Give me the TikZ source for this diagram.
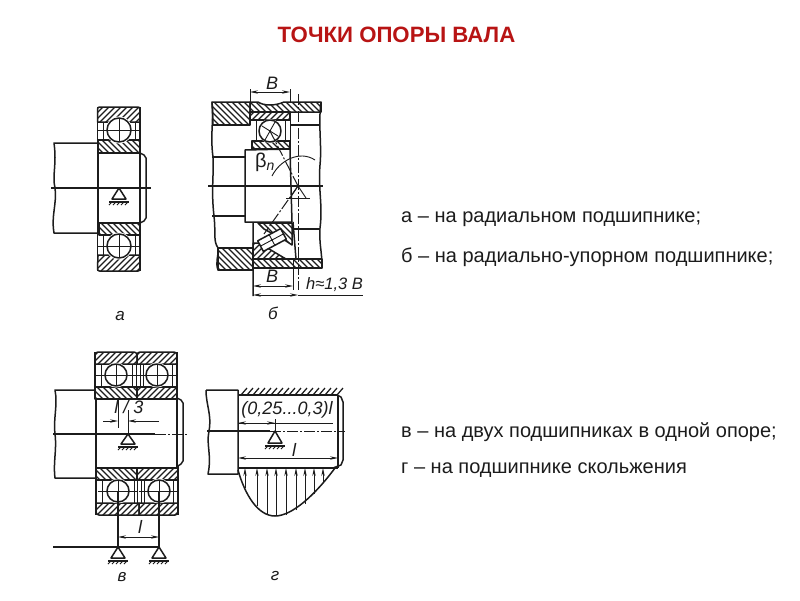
\documentclass[tikz,border=0pt]{standalone}
\usepackage{fontspec}
\setmainfont{Liberation Sans}
\usetikzlibrary{arrows.meta}
\definecolor{ink}{HTML}{1C1C1C}
\definecolor{titlered}{HTML}{B81414}
\tikzset{
  part/.style={draw=ink,line width=1.5pt,line join=round},
  thin part/.style={draw=ink,line width=.9pt},
  hatchline/.style={draw=ink,line width=1.25pt},
  axisline/.style={draw=ink,line width=1.4pt},
  dashaxis/.style={draw=ink,line width=1pt,dash pattern=on 11pt off 2pt on 2pt off 2pt},
  dim/.style={draw=ink,line width=.9pt},
  dimarrow/.style={draw=ink,line width=.9pt,-{Stealth[length=8pt,width=3.4pt]}},
  dimboth/.style={draw=ink,line width=.9pt,{Stealth[length=8pt,width=3.4pt]}-{Stealth[length=8pt,width=3.4pt]}},
  caption/.style={text=ink,font=\fontsize{20}{24}\selectfont,anchor=base west,inner sep=0pt},
  title/.style={text=titlered,font=\bfseries\fontsize{22.2}{26}\selectfont,inner sep=0pt},
  draft/.style={text=ink,font=\itshape\fontsize{18}{20}\selectfont,inner sep=0pt},
  figlabel/.style={text=ink,font=\itshape\fontsize{17}{19}\selectfont,inner sep=0pt},
}
% hatched regions: #1 a closed path
\newcommand{\hatchf}[1]{\begin{scope}\clip #1;\foreach \k in {0,6,...,1200}{\draw[hatchline] (\k,0) -- (\k-700,700);}\end{scope}\draw[part] #1;}
\newcommand{\hatchb}[1]{\begin{scope}\clip #1;\foreach \k in {-650,-644,...,500}{\draw[hatchline] (\k,0) -- (\k+700,700);}\end{scope}\draw[part] #1;}
% a ball with its cross
\newcommand{\ball}[3]{\fill[white] (#1,#2) circle (#3+1.5);
  \draw[part] (#1,#2) circle (#3);
  \draw[thin part] (#1-#3-9,#2) -- (#1+#3+9,#2) (#1,#2-#3) -- (#1,#2+#3);}
% support symbol
\newcommand{\support}[4]{\fill[white] (#1,#2) -- (#1-#3,#4) -- (#1+#3,#4) -- cycle;
  \draw[part] (#1,#2) -- (#1-#3,#4) -- (#1+#3,#4) -- cycle;
  \draw[part] (#1-#3-3,#4+3) -- (#1+#3+3,#4+3);
  \foreach \d in {-9,-5,...,7}{\draw[thin part] (#1+\d+2,#4+3) -- (#1+\d-1,#4+6);}}
\begin{document}
\begin{tikzpicture}[x=1pt,y=-1pt]
\useasboundingbox (0,0) rectangle (800,600);
\fill[white] (0,0) rectangle (800,600);

\node[title] (heading) at (396.5,35) {ТОЧКИ ОПОРЫ ВАЛА};
\node[caption] (capa) at (401,222.5) {а – на радиальном подшипнике;};
\node[caption] (capb) at (401,262) {б – на радиально-упорном подшипнике;};
\node[caption] (capc) at (401,437.5) {в – на двух подшипниках в одной опоре;};
\node[caption] (capd) at (401,473.5) {г – на подшипнике скольжения};

% ---------- a ----------
\draw[part] (97.5,143) -- (54,143) .. controls (57,165) and (52,175) .. (55,188) .. controls (57,205) and (51,215) .. (54,233) -- (97.5,233);
\hatchf{(97.5,122) -- (97.5,110) [rounded corners=2pt] -- (97.5,107) -- (140,107) -- (140,110) [sharp corners] -- (140,122) -- cycle}
\hatchb{(98,140) -- (140,140) -- (140,153) -- (98,153) -- cycle}
\hatchb{(99,223) -- (140,223) -- (140,235) -- (99,235) -- cycle}
\hatchf{(98,255) -- (140,255) -- (140,268) [rounded corners=2pt] -- (140,271) -- (97.5,271) [sharp corners] -- (97.5,268) -- cycle}
\draw[part] (97.5,107) -- (97.5,271) (140,107) -- (140,271);
\draw[part] (98,153) -- (98,223);
\draw[part] (140,153) -- (144,155) -- (146,158) -- (146,218) -- (144,221) -- (140,223);
\draw[thin part] (103,122) -- (103,140) (135,122) -- (135,140) (103,235) -- (103,255) (135,235) -- (135,255);
\ball{119}{130}{12}
\ball{119}{246}{12}
\draw[axisline] (51,188) -- (151,188);
\support{119}{188}{7}{199}
\node[figlabel] (la) at (120,316) {а};

% ---------- b ----------
\draw[part] (212,102) .. controls (214,120) and (210,135) .. (213,157) .. controls (214,175) and (211,190) .. (214,216) .. controls (216,235) and (213,240) .. (218,248);
\draw[part] (218,270) .. controls (215,262) and (219,255) .. (218,248);
\draw[part] (321,102) .. controls (318,125) and (322,145) .. (320,165) .. controls (318,190) and (323,205) .. (320,228) .. controls (319,245) and (322,250) .. (322,268);
\hatchb{(212,102) -- (250,102) -- (250,125) -- (213,125) -- cycle}
\hatchb{(250,102) -- (258,102) .. controls (264,106) and (275,106) .. (284,102) -- (321,102) -- (321,112) -- (250,112) -- cycle}
\hatchb{(218,248) -- (253,248) -- (253,270) -- (218,270) -- cycle}
\hatchb{(253,259) -- (322,259) -- (322,268) -- (253,268) -- cycle}
\hatchf{(250,112) -- (290,112) -- (290,120) -- (250,120) -- cycle}
\hatchb{(252,141) -- (290,141) -- (290,149) -- (252,149) -- cycle}
\draw[part] (250,112) -- (250,125) (252,141) -- (252,150);
\draw[thin part] (290,112) -- (290,150) (256,120) -- (256,141) (285,120) -- (285,141);
\fill[white] (270,131) circle (12);
\draw[part] (270,131) circle (11);
\draw[thin part] (262,126) -- (278,136) (275,122) -- (265,140);
\draw[part] (212,125) -- (250,125) (290,125) -- (320,125);
\draw[part] (290,149) -- (245,150) -- (245,222) -- (292,222);
\draw[part] (212,157) -- (245,157) (212,216) -- (245,216) (293,229) -- (320,229);
\draw[part] (290,150) -- (292,222);
% lower tapered bearing
\hatchb{(258,223) -- (292,223) -- (292,245) -- (286,241) -- (264,229) -- cycle}
\hatchf{(253,243) -- (259,243) -- (286,259) -- (253,259) -- cycle}
\draw[part] (253,222) -- (253,296) (293,222) -- (296,259);
\begin{scope}[rotate around={28:(272,240)}]
\fill[white] (259,234) rectangle (285,246);
\draw[part] (259,234) rectangle (285,246);
\draw[thin part] (272,234) -- (272,246) (259,240) -- (285,240);
\end{scope}
\draw[dashaxis] (298,94) -- (298,290);
\draw[dashaxis] (298,186) -- (264,234);
\draw[dashaxis] (298,186) -- (270,131);
\draw[axisline] (208,186) -- (323,186);
% beta angle arc
\draw[thin part] (272,176) .. controls (280,160) and (300,150) .. (315,160);
\node[draft,font=\fontsize{20}{22}\selectfont] (beta) at (265,162) {β\textsubscript{\itshape n}};
% support b
\draw[thin part] (298,186) -- (290,198) (298,186) -- (306,198);
\draw[thin part] (286,198) -- (310,198);
% dims b
\draw[dim] (250,89) -- (250,102) (290,89) -- (290,102);
\draw[dimboth] (250,92) -- (290,92);
\node[draft] (btop) at (272,83) {B};
\node[draft] (bbot) at (272,276) {B};
\draw[dim] (293,259) -- (293,290);
\draw[dimboth] (253,286) -- (293,286);
\draw[dimboth] (253,295) -- (298,295);
\draw[dim] (298,295) -- (363,295);
\node[draft,anchor=west,font=\itshape\fontsize{16.5}{18}\selectfont] (hval) at (306,285) {h≈1,3 B};
\node[figlabel] (lb) at (273,313) {б};

% ---------- v ----------
\draw[part] (95,390) -- (55,390) .. controls (58,405) and (53,420) .. (55,434) .. controls (57,450) and (53,462) .. (55,478) -- (95,478);
\hatchf{(95,364) [rounded corners=3pt] -- (95,352) -- (137,352) [sharp corners] -- (137,364) -- cycle}
\hatchf{(137,364) [rounded corners=3pt] -- (137,352) -- (177,352) [sharp corners] -- (177,364) -- cycle}
\hatchb{(95,387) -- (137,387) -- (137,399) -- (95,399) -- cycle}
\hatchf{(137,387) -- (177,387) -- (177,399) -- (137,399) -- cycle}
\hatchb{(96,468) -- (137,468) -- (137,480) -- (96,480) -- cycle}
\hatchf{(137,468) -- (178,468) -- (178,480) -- (137,480) -- cycle}
\hatchf{(96,503) -- (139,503) -- (139,515) [rounded corners=3pt] -- (96,515) [sharp corners] -- cycle}
\hatchf{(139,503) -- (178,503) [rounded corners=3pt] -- (178,515) [sharp corners] -- (139,515) -- cycle}
\draw[part] (95,352) -- (95,399) (177,352) -- (177,399) (96,399) -- (96,515) (178,466) -- (178,515) (177,399) -- (177,468);
\draw[thin part] (101,364) -- (101,387) (132,364) -- (132,387) (136,364) -- (136,387) (140,364) -- (140,387) (143,364) -- (143,387) (172,364) -- (172,387);
\draw[thin part] (102,480) -- (102,503) (134,480) -- (134,503) (137,480) -- (137,503) (141,480) -- (141,503) (144,480) -- (144,503) (173,480) -- (173,503);
\draw[part] (177,398) -- (181,400) -- (183,403) -- (183,461) -- (181,464) -- (178,466);
\ball{116}{375}{11}
\ball{157}{375}{11}
\ball{118}{491}{11}
\ball{159}{491}{11}
\draw[axisline] (53,434) -- (155,434);
\draw[dashaxis] (155,434) -- (188,434);
\draw[dim] (118,399) -- (118,428) (128,410) -- (128,434);
\draw[dimarrow] (103,421) -- (118,421);
\draw[dimarrow] (159,421) -- (128,421);
\node[draft,anchor=center] (third) at (129,407) {l / 3};
\support{128}{434}{7}{444}
\draw[part] (118,491) -- (118,547) (159,491) -- (159,547);
\draw[dimboth] (118,537) -- (159,537);
\node[draft] (lv) at (140,527) {l};
\draw[axisline] (53,547) -- (159,547);
\support{118}{547}{7}{558}
\support{159}{547}{7}{558}
\node[figlabel] (lc) at (122,577) {в};

% ---------- g ----------
\draw[part] (206,390) -- (238,390) -- (238,474) -- (208,474) .. controls (212,455) and (206,445) .. (209,431) .. controls (212,415) and (206,405) .. (206,390);
\foreach \k in {241,247,...,337}{\draw[hatchline] (\k,395) -- (\k+6,388);}
\draw[part] (238,395) -- (337,395);
\draw[part] (238,468) -- (338,468);
\draw[part] (338,395) -- (338,468);
\draw[part] (337,395) -- (341,397) -- (343,402) -- (343,460) -- (341,465) -- (333,468);
\draw[axisline] (207,431) -- (270,431);
\draw[dashaxis] (270,431) -- (345,431);
\draw[dim] (238,423) -- (333,423);
\draw[dimarrow] (254,423) -- (238,423);
\draw[dimarrow] (262,423) -- (275,423);
\draw[dim] (275,419) -- (275,431);
\node[draft] (ratio) at (287,410) {(0,25...0,3)l};
\support{275}{431}{7}{443}
\draw[dimboth] (238,458) -- (338,458);
\node[draft] (lg) at (294,450) {l};
\draw[part] (238,470) .. controls (245,495) and (258,516) .. (275,516) .. controls (292,516) and (315,495) .. (335,468);
\foreach \x/\y in {245/488,257/506,267/514,276/516,286/515,296/510,305/504,314/494,323/483}{
  \draw[dimarrow] (\x,\y) -- (\x,468);
}
\node[figlabel] (le) at (275,576) {г};
\end{tikzpicture}
\end{document}
